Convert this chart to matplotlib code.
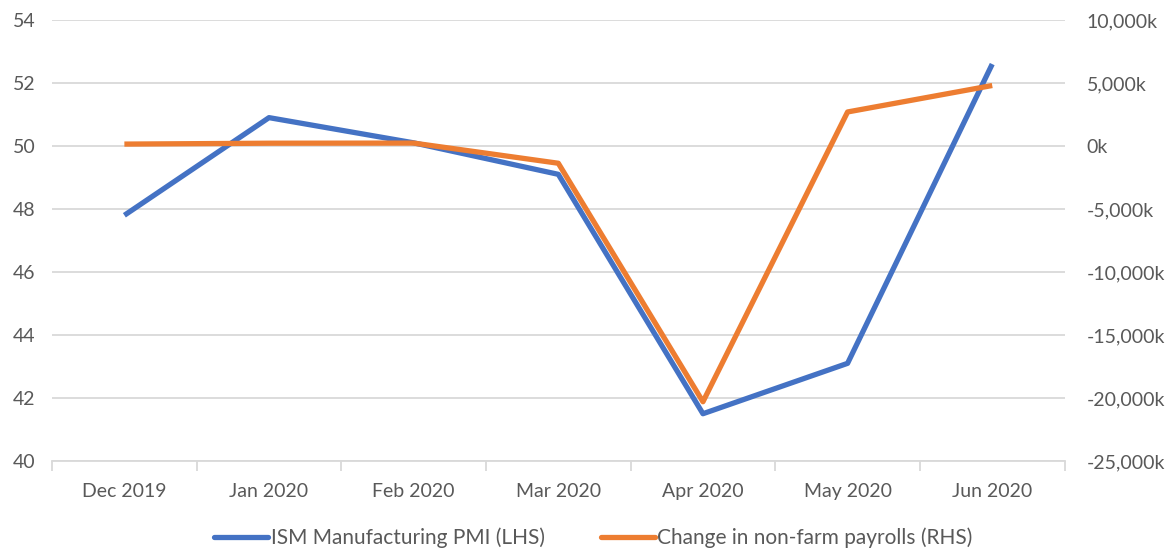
import matplotlib
matplotlib.use("Agg")
import matplotlib.pyplot as plt
import numpy as np
from matplotlib.ticker import FuncFormatter, FixedLocator
from matplotlib.lines import Line2D

categories = ["Dec 2019", "Jan 2020", "Feb 2020", "Mar 2020", "Apr 2020", "May 2020", "Jun 2020"]
ism_pmi = [47.8, 50.9, 50.1, 49.1, 41.5, 43.1, 52.6]
payrolls_k = [150, 220, 230, -1370, -20300, 2700, 4800]

plt.rcParams['font.family'] = ['Lato', 'DejaVu Sans']
txt = '#595959'
grid = '#d9d9d9'
blue = '#4472c4'
orange = '#ed7d31'

fig = plt.figure(figsize=(11.75, 5.52), dpi=100)
ax = fig.add_axes([0.0443, 0.1649, 0.8617, 0.7989])
ax2 = ax.twinx()

x = np.arange(len(categories))
ax.plot(x, ism_pmi, color=blue, lw=3.8, solid_capstyle='butt', zorder=3)
ax2.plot(x, payrolls_k, color=orange, lw=3.8, solid_capstyle='butt', zorder=3)

ax.set_xlim(-0.5, len(categories) - 0.5)
ax.set_ylim(40, 54)
ax.set_yticks(np.arange(40, 55, 2))
ax2.set_ylim(-25000, 10000)
ax2.set_yticks(np.arange(-25000, 10001, 5000))
ax2.yaxis.set_major_formatter(FuncFormatter(lambda v, p: f"{int(v):,}k"))

ax.yaxis.grid(True, color=grid, lw=1.3)
ax.set_axisbelow(True)
ax.set_xticks(x)
ax.set_xticklabels(categories)
ax.xaxis.set_minor_locator(FixedLocator(np.arange(-0.5, len(categories), 1)))
ax.tick_params(axis='x', which='major', length=0, pad=16, labelsize=14, labelcolor=txt)
ax.tick_params(axis='x', which='minor', length=7, width=1.3, color=grid)
ax.tick_params(axis='y', length=0, labelsize=14, labelcolor=txt, pad=12)
ax2.tick_params(axis='y', length=0, labelsize=14, labelcolor=txt, pad=16)

for a in (ax, ax2):
    for s in ('top', 'left', 'right', 'bottom'):
        a.spines[s].set_visible(False)
ax.spines['bottom'].set_visible(True)
ax.spines['bottom'].set_color(grid)
ax.spines['bottom'].set_linewidth(1.3)

handles = [Line2D([0], [0], color=blue, lw=3.8, solid_capstyle='round'),
           Line2D([0], [0], color=orange, lw=3.8, solid_capstyle='round')]
fig.legend(handles, ["ISM Manufacturing PMI (LHS)", "Change in non-farm payrolls (RHS)"],
           loc='center', bbox_to_anchor=(0.505, 0.025), ncol=2, frameon=False,
           fontsize=15, labelcolor=txt, handlelength=2.6, handletextpad=0.1, columnspacing=2.7)

fig.savefig("out.png", dpi=100, facecolor='white')
